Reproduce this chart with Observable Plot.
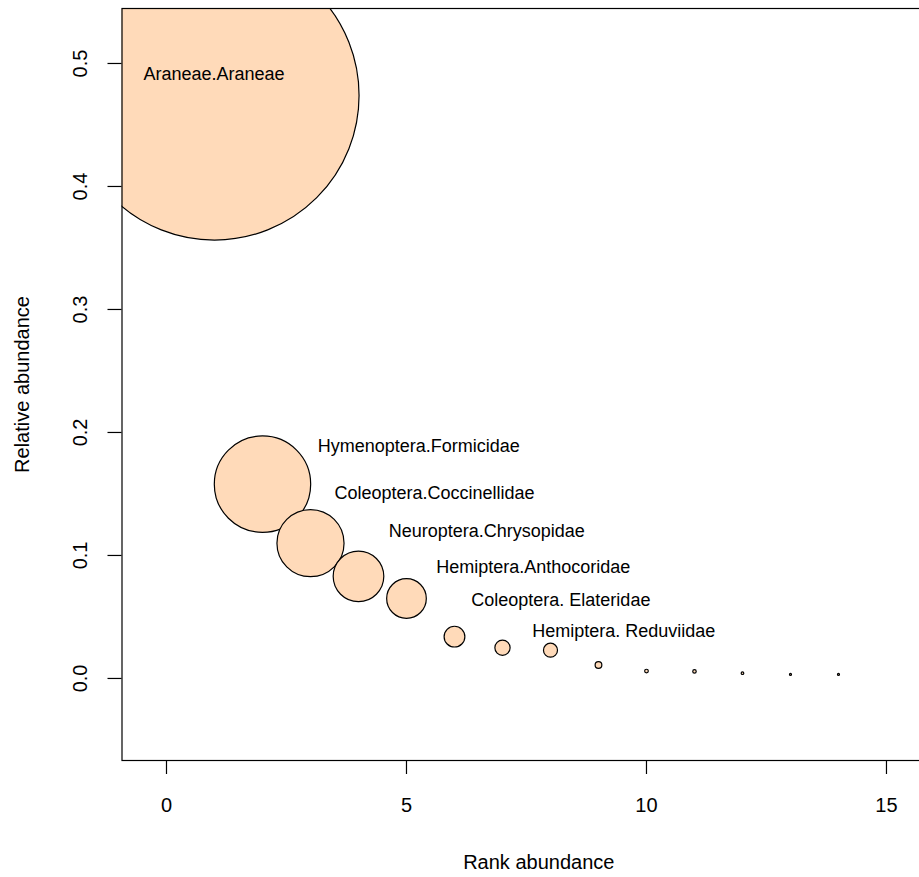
<!DOCTYPE html>
<html>
<head>
<meta charset="utf-8">
<script src="https://cdn.jsdelivr.net/npm/d3@7"></script>
<script src="https://cdn.jsdelivr.net/npm/@observablehq/plot@0.6"></script>
<style>
  html, body { margin: 0; padding: 0; background: #fff; }
  #chart svg { display: block; }
</style>
</head>
<body>
<div id="chart"></div>
<script>
// Rank–abundance of arthropod taxa (relative abundance per rank)
const ranks = [1, 2, 3, 4, 5, 6, 7, 8, 9, 10, 11, 12, 13, 14];
const relAbundance = [0.474, 0.158, 0.110, 0.083, 0.065, 0.034, 0.025, 0.023,
                      0.011, 0.006, 0.0057, 0.0043, 0.0033, 0.0033];

// Annotated taxa and where their names sit (data coordinates)
const taxonNames = [
  "Araneae.Araneae",
  "Hymenoptera.Formicidae",
  "Coleoptera.Coccinellidae",
  "Neuroptera.Chrysopidae",
  "Hemiptera.Anthocoridae",
  "Coleoptera. Elateridae",
  "Hemiptera. Reduviidae"
];
const nameX = [-0.48, 3.15, 3.50, 4.63, 5.62, 6.35, 7.62];
const nameY = [0.491, 0.189, 0.151, 0.120, 0.0905, 0.0634, 0.038];

const xTicks = [0, 5, 10, 15];
const yTicks = [0, 0.1, 0.2, 0.3, 0.4, 0.5];

const points = ranks.map((r, i) => ({rank: r, value: relAbundance[i]}));
const names = taxonNames.map((t, i) => ({name: t, x: nameX[i], y: nameY[i]}));

const font = "'Liberation Sans', Arial, Helvetica, sans-serif";

const chart = Plot.plot({
  width: 919,
  height: 877,
  marginLeft: 121.5,
  marginTop: 8,
  marginBottom: 117,
  marginRight: -36,
  x: {domain: [-0.927, 16.438]},
  y: {domain: [-0.0667, 0.5447]},
  r: {type: "linear", domain: [0, 1], range: [0, 305]},
  style: {fontFamily: font, background: "white", color: "black"},
  marks: [
    Plot.dot(points, {
      x: "rank", y: "value", r: "value",
      fill: "#FFDAB9", fillOpacity: 1, stroke: "black", strokeWidth: 1.2,
      clip: true
    }),
    Plot.text(names, {
      x: "x", y: "y", text: "name",
      textAnchor: "start", lineAnchor: "middle",
      fontSize: 18, fill: "black"
    }),
    Plot.frame({stroke: "black", strokeWidth: 1.2}),
    Plot.axisX(xTicks, {
      tickSize: 14, tickPadding: 23, fontSize: 20,
      strokeWidth: 1.2, label: null, tickFormat: d => String(d)
    }),
    Plot.axisY(yTicks, {
      tickSize: 14, strokeWidth: 1.2, label: null, tickFormat: () => ""
    }),
    Plot.text(yTicks, {
      y: d => d, text: d => d.toFixed(1),
      frameAnchor: "left", dx: -41, rotate: -90,
      textAnchor: "middle", lineAnchor: "middle", fontSize: 20
    }),
    Plot.text(["Rank abundance"], {
      frameAnchor: "bottom", dy: 101.6,
      textAnchor: "middle", lineAnchor: "middle", fontSize: 20
    }),
    Plot.text(["Relative abundance"], {
      frameAnchor: "left", dx: -99.6, rotate: -90,
      textAnchor: "middle", lineAnchor: "middle", fontSize: 20
    })
  ]
});

document.getElementById("chart").appendChild(chart);
</script>
</body>
</html>
